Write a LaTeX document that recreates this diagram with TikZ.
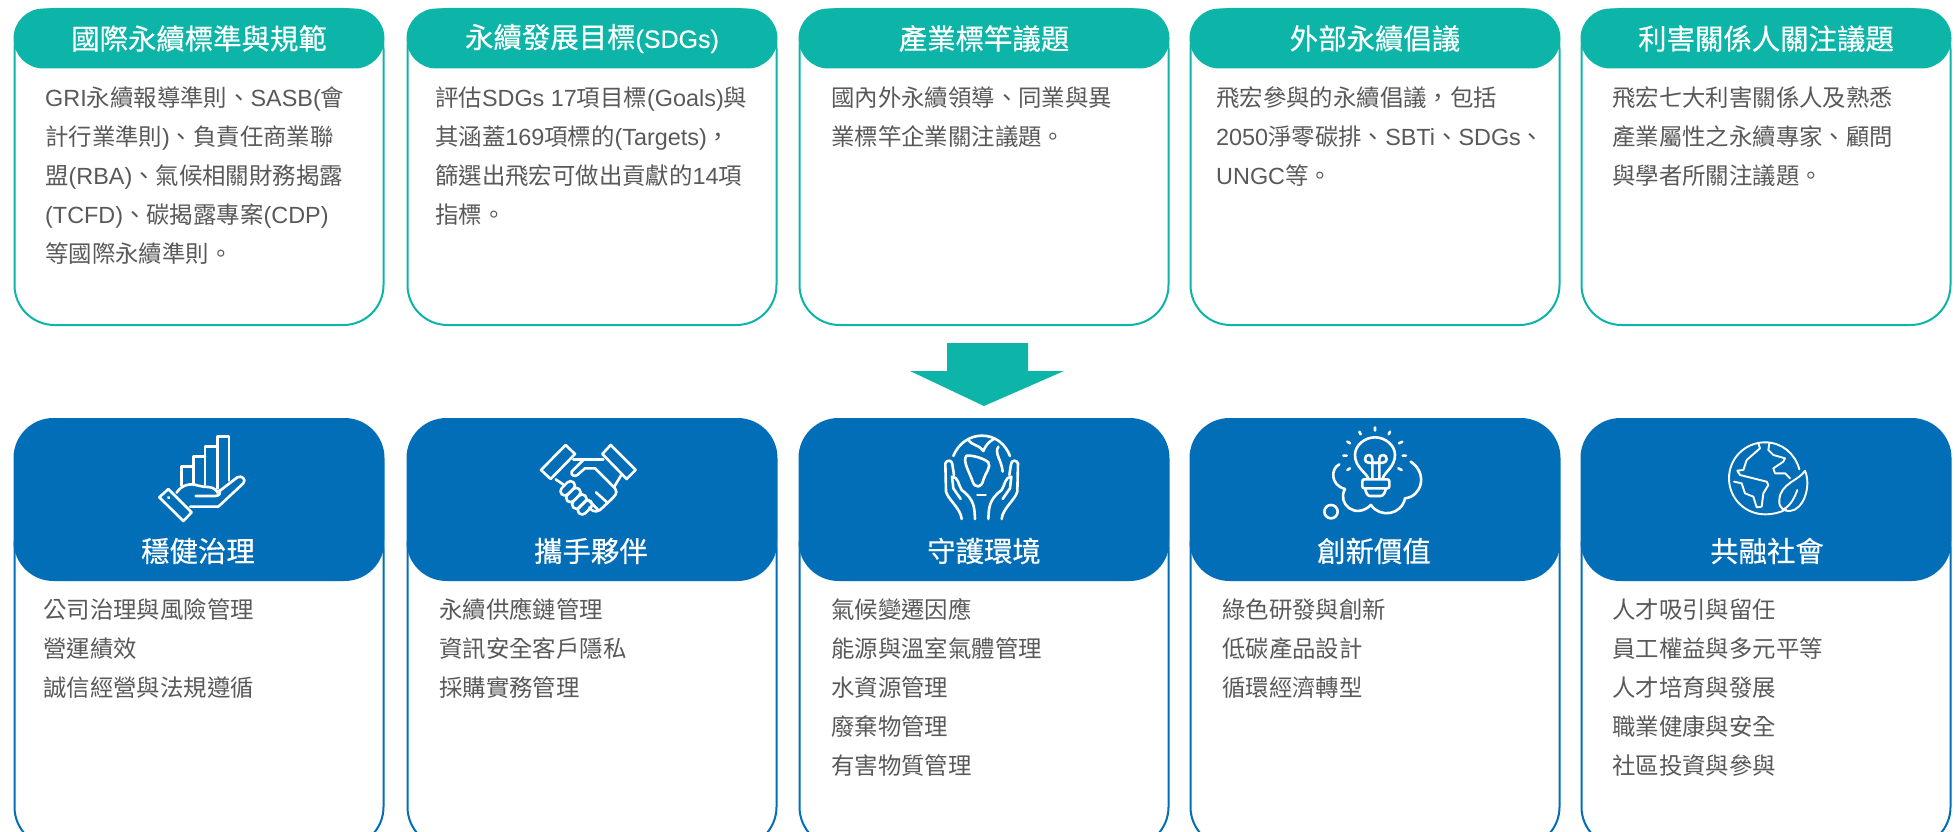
\documentclass[tikz,border=0pt]{standalone}
\usepackage{fontspec}
\setmainfont{Noto Sans CJK TC}
\newfontfamily\latn{Liberation Sans}
\newfontfamily\headf[FakeBold=0.4]{Noto Sans CJK TC}
\newfontfamily\headl[FakeBold=0.4]{Liberation Sans}
\newcommand{\ls}[1]{{\latn #1}}
\usepackage{tikz}
\definecolor{tealc}{RGB}{13,181,168}
\definecolor{bluec}{RGB}{3,110,184}
\definecolor{bodyc}{RGB}{89,89,89}
\tikzset{
  topbox/.style={draw=tealc,line width=2pt,rounded corners=40pt,minimum width=369pt,minimum height=316pt,anchor=north west,inner sep=0pt,outer sep=0pt},
  lowbox/.style={draw=bluec,line width=2pt,rounded corners=40pt,minimum width=369pt,minimum height=340pt,anchor=north west,inner sep=0pt,outer sep=0pt},
  tophead/.style={fill=tealc,rounded corners=30pt,minimum width=371pt,minimum height=60pt,anchor=north west,inner sep=0pt,outer sep=0pt,text=white,font=\headf\fontsize{28.4}{34}\selectfont},
  lowhead/.style={fill=bluec,rounded corners=40pt,minimum width=371pt,minimum height=163pt,anchor=north west,inner sep=0pt,outer sep=0pt},
  lowname/.style={text=white,font=\headf\fontsize{28.4}{34}\selectfont,inner sep=0pt},
  bodytext/.style={text=bodyc,font=\fontsize{23.4}{39}\selectfont,align=left,anchor=north west,inner sep=0pt},
  icon/.style={draw=white,line width=2.6pt,line cap=round,line join=round},
  thinicon/.style={draw=white,line width=1.9pt,line cap=round,line join=round}
}
\begin{document}
\begin{tikzpicture}[x=1pt,y=-1pt]
  \clip (0,0) rectangle (1955,832);
  \fill[white] (0,0) rectangle (1955,832);

  \node[topbox] (ta) at (14.5,9) {};
  \node[topbox] (tb) at (407.5,9) {};
  \node[topbox] (tc) at (799.5,9) {};
  \node[topbox] (td) at (1190.5,9) {};
  \node[topbox] (te) at (1581.5,9) {};

  \node[tophead] (ha) at (13.5,8.5) {\raisebox{-0.5pt}{國際永續標準與規範}};
  \node[tophead] (hb) at (406.5,8.5) {\raisebox{-0.5pt}{永續發展目標{\headl\fontsize{25}{34}\selectfont (SDGs)}}};
  \node[tophead] (hc) at (798.5,8.5) {\raisebox{-0.5pt}{產業標竿議題}};
  \node[tophead] (hd) at (1189.5,8.5) {\raisebox{-0.5pt}{外部永續倡議}};
  \node[tophead] (he) at (1580.5,8.5) {\raisebox{-0.5pt}{利害關係人關注議題}};

  \node[bodytext] (xa) at (45,86.5) {\ls{GRI}永續報導準則、\ls{SASB(}會\\計行業準則\ls{)}、負責任商業聯\\盟\ls{(RBA)}、氣候相關財務揭露\\\ls{(TCFD)}、碳揭露專案\ls{(CDP)}\\等國際永續準則。};
  \node[bodytext] (xb) at (435,86.5) {評估\ls{SDGs 17}項目標\ls{(Goals)}與\\其涵蓋\ls{169}項標的\ls{(Targets)}，\\篩選出飛宏可做出貢獻的\ls{14}項\\指標。};
  \node[bodytext] (xc) at (831,86.5) {國內外永續領導、同業與異\\業標竿企業關注議題。};
  \node[bodytext] (xd) at (1216,86.5) {飛宏參與的永續倡議，包括\\\ls{2050}淨零碳排、\ls{SBTi}、\ls{SDGs}、\\\ls{UNGC}等。};
  \node[bodytext] (xe) at (1612,86.5) {飛宏七大利害關係人及熟悉\\產業屬性之永續專家、顧問\\與學者所關注議題。};

  \fill[tealc] (947,343) -- (1028,343) -- (1028,371) -- (1064,371) -- (984,406) -- (910,371) -- (947,371) -- cycle;

  \node[lowbox] (la) at (14.5,507) {};
  \node[lowbox] (lb) at (407.5,507) {};
  \node[lowbox] (lc) at (799.5,507) {};
  \node[lowbox] (ld) at (1190.5,507) {};
  \node[lowbox] (le) at (1581.5,507) {};

  \node[lowhead] (ga) at (13.5,418) {};
  \node[lowhead] (gb) at (406.5,418) {};
  \node[lowhead] (gc) at (798.5,418) {};
  \node[lowhead] (gd) at (1189.5,418) {};
  \node[lowhead] (ge) at (1580.5,418) {};

  \node[lowname] (na) at (198,551) {穩健治理};
  \node[lowname] (nb) at (591,551) {攜手夥伴};
  \node[lowname] (nc) at (984,551) {守護環境};
  \node[lowname] (nd) at (1374,551) {創新價值};
  \node[lowname] (ne) at (1767,551) {共融社會};

  \node[bodytext] (ya) at (43,598.5) {公司治理與風險管理\\營運績效\\誠信經營與法規遵循};
  \node[bodytext] (yb) at (439,598.5) {永續供應鏈管理\\資訊安全客戶隱私\\採購實務管理};
  \node[bodytext] (yc) at (831,598.5) {氣候變遷因應\\能源與溫室氣體管理\\水資源管理\\廢棄物管理\\有害物質管理};
  \node[bodytext] (yd) at (1222,598.5) {綠色研發與創新\\低碳產品設計\\循環經濟轉型};
  \node[bodytext] (ye) at (1612,598.5) {人才吸引與留任\\員工權益與多元平等\\人才培育與發展\\職業健康與安全\\社區投資與參與};

  % hand with bars
  \begin{scope}[shift={(130,420)},x=0.3333pt,y=-0.3333pt]
    \draw[icon] (155,197) -- (155,140) -- (190,140);
    \draw[icon] (190,190) -- (190,110) -- (225,110);
    \draw[icon] (225,195) -- (225,80) -- (260,80);
    \draw[icon] (262,205) -- (262,50) -- (297,50) -- (297,182);
    \draw[icon] (88,232) -- (115,207) -- (185,277) -- (160,303) -- cycle;
    \draw[icon] (115,232) -- (117,234);
    \draw[icon] (140,218) .. controls (155,195) and (180,188) .. (205,197) .. controls (225,205) and (250,192) .. (266,222);
    \draw[icon] (197,228) -- (255,228) .. controls (270,228) and (272,218) .. (268,210);
    \draw[icon] (270,212) -- (322,172) .. controls (335,165) and (350,178) .. (340,190) -- (265,260) -- (180,260);
  \end{scope}

  % handshake
  \begin{scope}[shift={(520,430)},x=0.3333pt,y=-0.3333pt]
    \draw[icon] (63,120) -- (137,45) -- (165,72) -- (92,147) -- cycle;
    \draw[icon] (247,72) -- (272,45) -- (347,120) -- (320,147) -- cycle;
    \draw[icon] (160,88) -- (250,88);
    \draw[icon] (190,90) -- (155,125) .. controls (152,138) and (165,140) .. (172,135) -- (195,115) -- (225,115) -- (285,175);
    \draw[icon] (305,133) -- (283,170);
    \draw[icon] (107,148) -- (132,165);
    \draw[icon] (285,175) .. controls (295,190) and (285,197) .. (270,212) -- (240,240) .. controls (225,250) and (212,240) .. (208,232);
    \draw[icon] (228,187) -- (262,218);
    \draw[icon] (205,210) -- (235,240);
    \foreach \cx/\cy in {143/175,160/195,178/215,195/232}
      \draw[icon,rounded corners=4.2pt,rotate around={45:(\cx,\cy)}] (\cx-25,\cy-13) rectangle (\cx+25,\cy+13);
  \end{scope}

  % earth in hands
  \begin{scope}[shift={(920,425)},x=0.3333pt,y=-0.3333pt]
    \draw[icon] (100,93) .. controls (115,55) and (150,32) .. (185,32) .. controls (225,32) and (255,55) .. (270,93);
    \draw[icon] (145,45) .. controls (155,62) and (172,55) .. (190,78) .. controls (195,65) and (205,50) .. (222,42);
    \draw[icon] (235,65) .. controls (222,85) and (245,105) .. (248,140);
    \draw[icon] (140,92) .. controls (125,105) and (150,145) .. (158,170) .. controls (165,190) and (185,190) .. (190,165) .. controls (195,145) and (215,125) .. (205,112) .. controls (195,102) and (160,90) .. (140,92) -- cycle;
    \draw[icon] (172,210) -- (197,210);
    \draw[icon] (125,282) .. controls (122,250) and (85,225) .. (78,200) -- (76,115) .. controls (80,103) and (97,105) .. (97,118) -- (102,150);
    \draw[icon] (165,282) .. controls (163,250) and (165,225) .. (125,195) .. controls (115,180) and (115,155) .. (96,155) -- (100,190) -- (122,222);
    \begin{scope}[shift={(370,0)},xscale=-1]
      \draw[icon] (125,282) .. controls (122,250) and (85,225) .. (78,200) -- (76,115) .. controls (80,103) and (97,105) .. (97,118) -- (102,150);
      \draw[icon] (165,282) .. controls (163,250) and (165,225) .. (125,195) .. controls (115,180) and (115,155) .. (96,155) -- (100,190) -- (122,222);
    \end{scope}
  \end{scope}

  % bulb in cloud
  \begin{scope}[shift={(1310,420)},x=0.3333pt,y=-0.3333pt]
    \draw[icon] (175,175) .. controls (165,155) and (135,140) .. (135,105) .. controls (135,75) and (165,52) .. (195,52) .. controls (225,52) and (255,75) .. (255,105) .. controls (255,140) and (225,155) .. (218,175);
    \draw[icon,rounded corners=2pt] (157,178) rectangle (238,205);
    \draw[icon] (165,205) .. controls (168,218) and (172,228) .. (180,228) -- (212,228) .. controls (220,228) and (225,218) .. (228,205);
    \draw[icon] (187,176) -- (187,117) .. controls (187,100) and (165,102) .. (165,117) .. controls (165,130) and (180,130) .. (205,128);
    \draw[icon] (208,176) -- (208,117) .. controls (208,100) and (230,102) .. (230,117) .. controls (230,130) and (215,130) .. (190,128);
    \draw[icon] (195,22) -- (195,32) (148,35) -- (152,43) (240,35) -- (236,43) (112,65) -- (120,70) (277,65) -- (267,70) (100,107) -- (110,107) (278,107) -- (288,107) (112,150) -- (120,145) (265,145) -- (275,150);
    \draw[icon] (88,133) .. controls (62,145) and (60,195) .. (105,207) .. controls (80,250) and (135,300) .. (183,255) .. controls (210,295) and (275,285) .. (285,235) .. controls (335,230) and (355,160) .. (302,125);
    \draw[icon] (63,275) circle[radius=20];
  \end{scope}

  % earth with leaf
  \begin{scope}[shift={(1710,430)},x=0.3333pt,y=-0.3333pt]
    \draw[thinicon] (268,118) .. controls (255,70) and (215,37) .. (165,37) .. controls (105,37) and (57,85) .. (57,145) .. controls (57,205) and (105,253) .. (165,253) .. controls (190,253) and (210,248) .. (228,238);
    \draw[thinicon] (145,40) -- (150,55) -- (110,90) -- (100,120) -- (82,122) -- (90,135) -- (170,155) -- (175,165) -- (160,190) -- (155,230) -- (140,232) -- (130,200) -- (105,190) -- (95,160) -- (72,155);
    \draw[thinicon] (178,40) -- (175,60) -- (190,75) -- (225,85) -- (220,95) -- (190,115) -- (195,130) -- (225,130) -- (240,145);
    \draw[thinicon] (285,122) .. controls (270,150) and (210,160) .. (208,210) .. controls (205,235) and (225,245) .. (240,243) .. controls (280,240) and (305,170) .. (285,122) -- cycle;
    \draw[thinicon] (262,180) .. controls (250,215) and (235,230) .. (218,240);
  \end{scope}
\end{tikzpicture}
\end{document}
